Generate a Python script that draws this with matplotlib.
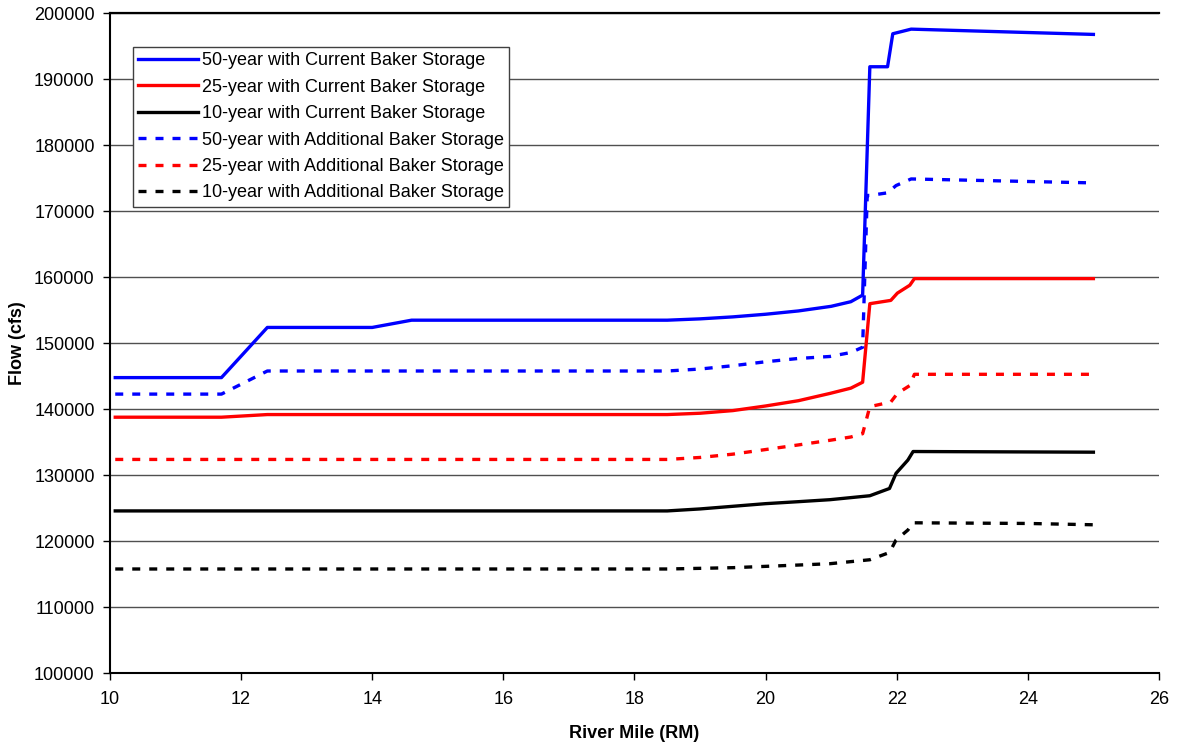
import matplotlib
matplotlib.use("Agg")
import matplotlib.pyplot as plt
from matplotlib.ticker import MultipleLocator, FuncFormatter

plt.rcParams['font.family'] = ['Liberation Sans', 'DejaVu Sans']

# --- data (River Mile vs Flow in cfs) ---
c50_x = [10.08, 11.7, 12.4, 14.0, 14.6, 18.5, 19.0, 19.5, 20.0, 20.5, 21.0, 21.3, 21.48, 21.59, 21.86, 21.94, 22.22, 25.0]
c50_y = [144800, 144800, 152400, 152400, 153500, 153500, 153700, 154000, 154400, 154900, 155600, 156300, 157300, 191900, 191900, 196900, 197600, 196800]

c25_x = [10.08, 11.7, 12.4, 18.5, 19.0, 19.5, 20.0, 20.5, 20.98, 21.3, 21.48, 21.59, 21.91, 22.01, 22.2, 22.27, 25.0]
c25_y = [138800, 138800, 139200, 139200, 139400, 139800, 140500, 141300, 142400, 143200, 144100, 156000, 156500, 157600, 158800, 159800, 159800]

c10_x = [10.08, 18.5, 19.0, 19.5, 20.0, 20.5, 20.98, 21.59, 21.89, 21.99, 22.17, 22.25, 25.0]
c10_y = [124600, 124600, 124900, 125300, 125700, 126000, 126300, 126900, 128000, 130300, 132300, 133600, 133500]

a50_x = [10.08, 11.7, 12.4, 18.5, 19.0, 19.5, 20.0, 20.5, 20.98, 21.3, 21.48, 21.55, 21.59, 21.86, 21.99, 22.22, 25.0]
a50_y = [142300, 142300, 145800, 145800, 146100, 146600, 147200, 147700, 148000, 148600, 149400, 172400, 172400, 172800, 173900, 174900, 174300]

a25_x = [10.08, 18.5, 19.0, 19.5, 20.0, 20.5, 20.98, 21.3, 21.48, 21.59, 21.91, 22.01, 22.2, 22.27, 25.0]
a25_y = [132400, 132400, 132700, 133200, 133900, 134600, 135300, 135800, 136300, 140400, 141100, 142400, 143600, 145300, 145300]

a10_x = [10.08, 18.5, 19.0, 19.5, 20.0, 20.5, 20.98, 21.59, 21.89, 21.99, 22.17, 22.25, 24.0, 25.0]
a10_y = [115800, 115800, 115900, 116000, 116200, 116400, 116600, 117200, 118300, 120200, 121700, 122800, 122700, 122500]

labels = [
    "50-year with Current Baker Storage",
    "25-year with Current Baker Storage",
    "10-year with Current Baker Storage",
    "50-year with Additional Baker Storage",
    "25-year with Additional Baker Storage",
    "10-year with Additional Baker Storage",
]
x_ticks = [10, 12, 14, 16, 18, 20, 22, 24, 26]

fig = plt.figure(figsize=(11.79, 7.47), dpi=100)
ax = fig.add_axes([0.0933, 0.0987, 0.8897, 0.8835])

lw = 2.4
dash = (0, (2.4, 2.7))
series = [
    (c50_x, c50_y, 'blue', '-'),
    (c25_x, c25_y, 'red', '-'),
    (c10_x, c10_y, 'black', '-'),
    (a50_x, a50_y, 'blue', dash),
    (a25_x, a25_y, 'red', dash),
    (a10_x, a10_y, 'black', dash),
]
for (xs, ys, col, ls), lab in zip(series, labels):
    ax.plot(xs, ys, color=col, linestyle=ls, linewidth=lw, label=lab, zorder=3)

ax.set_xlim(10, 26)
ax.set_ylim(100000, 200000)
ax.set_xticks(x_ticks)
ax.yaxis.set_major_locator(MultipleLocator(10000))
ax.yaxis.set_major_formatter(FuncFormatter(lambda v, p: f"{int(v)}"))
ax.yaxis.grid(True, color='#505050', linewidth=1.0, zorder=0)
ax.set_axisbelow(True)

ax.spines['right'].set_visible(False)
ax.spines['top'].set_linewidth(1.6)
ax.spines['left'].set_linewidth(1.5)
ax.spines['bottom'].set_linewidth(1.5)
ax.tick_params(axis='both', direction='out', length=5, width=1, labelsize=13)
ax.tick_params(axis='y', pad=6)
ax.tick_params(axis='x', pad=8)

ax.set_xlabel("River Mile (RM)", fontsize=13, fontweight='bold', labelpad=12)
ax.set_ylabel("Flow (cfs)", fontsize=13, fontweight='bold', labelpad=6)

leg = ax.legend(loc='upper left', bbox_to_anchor=(0.022, 0.949), borderaxespad=0,
                fancybox=False, edgecolor='#404040', fontsize=13, handlelength=3.3,
                handletextpad=0.2, labelspacing=0.52, borderpad=0.3, framealpha=1)
leg.get_frame().set_linewidth(1.0)

fig.savefig("out.png", dpi=100)
